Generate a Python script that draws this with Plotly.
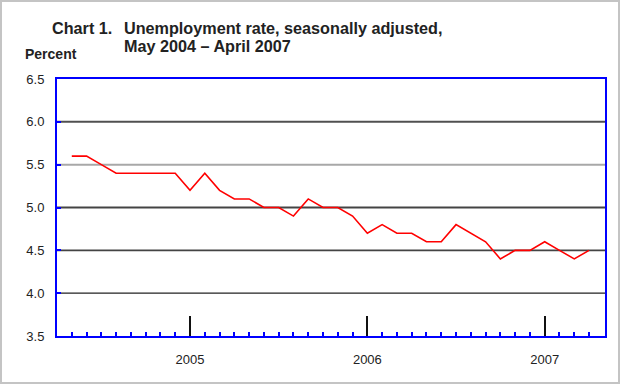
import plotly.graph_objects as go

# ---- data ----
months = ["2004-05", "2004-06", "2004-07", "2004-08", "2004-09", "2004-10", "2004-11", "2004-12",
          "2005-01", "2005-02", "2005-03", "2005-04", "2005-05", "2005-06", "2005-07", "2005-08",
          "2005-09", "2005-10", "2005-11", "2005-12",
          "2006-01", "2006-02", "2006-03", "2006-04", "2006-05", "2006-06", "2006-07", "2006-08",
          "2006-09", "2006-10", "2006-11", "2006-12",
          "2007-01", "2007-02", "2007-03", "2007-04"]
rate = [5.6, 5.6, 5.5, 5.4, 5.4, 5.4, 5.4, 5.4,
        5.2, 5.4, 5.2, 5.1, 5.1, 5.0, 5.0, 4.9, 5.1, 5.0, 5.0, 4.9,
        4.7, 4.8, 4.7, 4.7, 4.6, 4.6, 4.8, 4.7, 4.6, 4.4, 4.5, 4.5,
        4.6, 4.5, 4.4, 4.5]
y_ticks = [3.5, 4.0, 4.5, 5.0, 5.5, 6.0, 6.5]
grid_levels = [4.0, 4.5, 5.0, 5.5, 6.0]

x_idx = list(range(len(months)))
year_idx = [i for i, m in enumerate(months) if m.endswith("-01")]
year_lbl = [months[i][:4] for i in year_idx]

# ---- layout geometry (pixels) ----
W, H = 620, 384
L, R, T, B = 57, 15, 79, 48
PW, PH = W - L - R, H - T - B


def px(x):
    return (x - L) / PW


def py(y):
    return (H - B - y) / PH


FONT = "Liberation Sans, Arial, sans-serif"

fig = go.Figure()
fig.add_trace(go.Scatter(x=x_idx, y=rate, mode="lines",
                         line=dict(color="#ff0000", width=1.6),
                         hoverinfo="skip", showlegend=False))

grid_style = {4.0: ("#222222", 1.2), 4.5: ("#444444", 1.8), 5.0: ("#444444", 2),
              5.5: ("#a8a8a8", 2), 6.0: ("#505050", 2)}
for lv in grid_levels:
    c, w = grid_style[lv]
    fig.add_shape(type="line", xref="paper", x0=0, x1=1, yref="y", y0=lv, y1=lv,
                  line=dict(color=c, width=w), layer="below")

# outer gray border
fig.add_shape(type="rect", xref="paper", yref="paper",
              x0=px(1), x1=px(619), y0=py(383), y1=py(1),
              line=dict(color="#c4c4c4", width=2), layer="below")

tfont = dict(family=FONT, size=16.2, color="#222222")
fig.add_annotation(xref="paper", yref="paper", x=px(51), y=py(28), xanchor="left", yanchor="middle",
                   text="<b>Chart 1.</b>", showarrow=False, font=tfont, borderpad=0)
fig.add_annotation(xref="paper", yref="paper", x=px(123), y=py(28), xanchor="left", yanchor="middle",
                   text="<b>Unemployment rate, seasonally adjusted,</b>", showarrow=False, font=tfont,
                   borderpad=0)
fig.add_annotation(xref="paper", yref="paper", x=px(123), y=py(46), xanchor="left", yanchor="middle",
                   text="<b>May 2004 \u2013 April 2007</b>", showarrow=False, font=tfont, borderpad=0)
fig.add_annotation(xref="paper", yref="paper", x=px(23), y=py(54), xanchor="left", yanchor="middle",
                   text="<b>Percent</b>", showarrow=False,
                   font=dict(family=FONT, size=14, color="#222222"))

fig.update_layout(
    width=W, height=H, autosize=False,
    margin=dict(l=L, r=R, t=T, b=B, pad=0),
    paper_bgcolor="white", plot_bgcolor="white",
    font=dict(family=FONT, size=13, color="#222222"),
    xaxis=dict(range=[-1, 36.08], tickmode="array", tickvals=year_idx, ticktext=year_lbl,
               ticks="inside", ticklen=20, tickwidth=2, tickcolor="#111111",
               minor=dict(tickmode="array", tickvals=x_idx, ticks="inside", ticklen=4,
                          tickwidth=1.5, tickcolor="#0000ff"),
               showline=True, linecolor="#0000ff", linewidth=2, mirror=True,
               showgrid=False, zeroline=False, ticklabelstandoff=10,
               tickfont=dict(family=FONT, size=13, color="#222222")),
    yaxis=dict(range=[3.5, 6.5], tickmode="array", tickvals=y_ticks,
               ticktext=[f"{v:.1f}" for v in y_ticks],
               ticks="inside", ticklen=4, tickwidth=1.5, tickcolor="#0000ff",
               showline=True, linecolor="#0000ff", linewidth=2, mirror=True,
               showgrid=False, zeroline=False, ticklabelstandoff=8,
               tickfont=dict(family=FONT, size=13, color="#222222")),
)

fig.write_html("out.html", config={"displayModeBar": False},
               post_script="document.body.style.margin='0';document.body.style.padding='0';")
